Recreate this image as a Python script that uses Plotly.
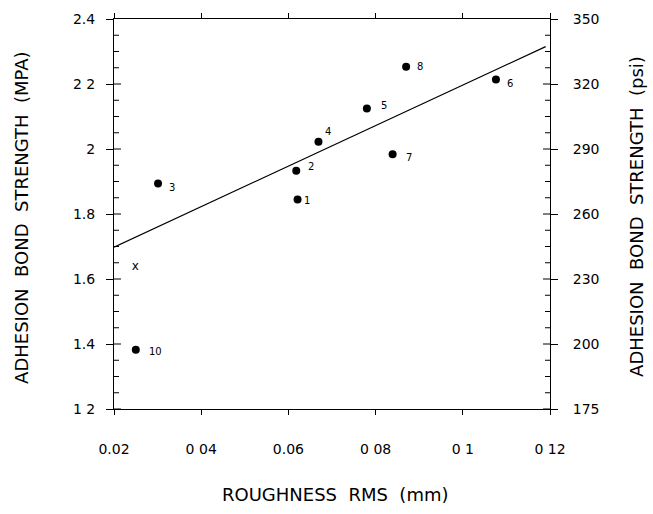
import plotly.graph_objects as go

# ---- data ----
roughness = [0.0621, 0.0618, 0.0301, 0.0669, 0.0780, 0.1076, 0.0839, 0.0870, 0.0250]
strength = [1.845, 1.933, 1.894, 2.022, 2.125, 2.214, 1.984, 2.253, 1.382]
point_labels = ["1", "2", "3", "4", "5", "6", "7", "8", "10"]

x_point = [0.0249]
x_point_strength = [1.638]

fit_x = [0.02, 0.119]
fit_y = [1.698, 2.315]

x_tickvals = [0.02, 0.04, 0.06, 0.08, 0.10, 0.12]
x_ticktext = ["0.02", "0 04", "0.06", "0 08", "0 1", "0 12"]
y_tickvals = [1.2, 1.4, 1.6, 1.8, 2.0, 2.2, 2.4]
y_ticktext = ["1 2", "1.4", "1.6", "1.8", "2", "2 2", "2.4"]
psi_ticktext = ["175", "200", "230", "260", "290", "320", "350"]

# label pixel offsets (style only): (dx, dy up)
label_offsets = {"1": (9, -1), "2": (15, 4), "3": (14, -4), "4": (10, 10),
                 "5": (17, 3), "6": (14, -4), "7": (16, -3), "8": (14, 0),
                 "10": (20, -2)}

FONT = "DejaVu Sans"
fig = go.Figure()

fig.add_trace(go.Scatter(x=fit_x, y=fit_y, mode="lines",
                         line=dict(color="black", width=1.2), showlegend=False))
fig.add_trace(go.Scatter(x=roughness, y=strength, mode="markers",
                         marker=dict(color="black", size=8), cliponaxis=False,
                         showlegend=False))
fig.add_trace(go.Scatter(x=x_point, y=x_point_strength, mode="text", text=["x"],
                         textfont=dict(family=FONT, size=12, color="black"),
                         showlegend=False))
# invisible helper trace so the right axis gets drawn
fig.add_trace(go.Scatter(x=x_point, y=x_point_strength, yaxis="y2",
                         mode="markers", marker=dict(opacity=0),
                         hoverinfo="skip", showlegend=False))

annotations = []
for xv, yv, lab in zip(roughness, strength, point_labels):
    dx, dy = label_offsets[lab]
    annotations.append(dict(x=xv, y=yv, text=lab, showarrow=False,
                            xshift=dx, yshift=dy,
                            font=dict(family=FONT, size=10, color="black")))

title_font = dict(family=FONT, size=18, color="black")
sp = "\u00a0\u00a0"
annotations += [
    dict(xref="paper", yref="paper", x=0.507, y=-0.218,
         text=f"ROUGHNESS{sp}RMS{sp}(mm)", showarrow=False, font=title_font,
         xanchor="center", yanchor="middle"),
    dict(xref="paper", yref="paper", x=-0.211, y=0.49, textangle=-90,
         text=f"ADHESION{sp}BOND{sp}STRENGTH{sp}(MPA)", showarrow=False,
         font=title_font, xanchor="center", yanchor="middle"),
    dict(xref="paper", yref="paper", x=1.1995, y=0.495, textangle=-90,
         text=f"ADHESION{sp}BOND{sp}STRENGTH{sp}(psi)", showarrow=False,
         font=title_font, xanchor="center", yanchor="middle"),
]

# default tick strings -> displayed text
left_alias = {f"{v:g}": t for v, t in zip(y_tickvals, y_ticktext)}
right_alias = {f"{v:g}": t for v, t in zip(y_tickvals, psi_ticktext)}

# inside tick marks on both vertical axes (major 7px, minor 5px every quarter step)
x_lo, x_hi = x_tickvals[0], x_tickvals[-1]
shapes = []
for i in range(len(y_tickvals) - 1):
    step = (y_tickvals[i + 1] - y_tickvals[i]) / 4
    for k in range(4):
        yv = y_tickvals[i] + k * step
        ln = 7 if k == 0 else 5
        for anchor, sign in ((x_lo, 1), (x_hi, -1)):
            shapes.append(dict(type="line", xref="x", yref="y",
                               xsizemode="pixel", xanchor=anchor,
                               x0=0, x1=sign * ln, y0=yv, y1=yv,
                               line=dict(color="black", width=1)))

tick_font = dict(family=FONT, size=14, color="black")
yrange = [1.2, 2.4]
common_y = dict(range=yrange, tickmode="linear", tick0=1.2, dtick=0.2,
                showgrid=False, zeroline=False, showline=True, linecolor="black",
                linewidth=1, ticks="outside", ticklen=7, tickcolor="black",
                tickfont=tick_font)
fig.update_layout(
    width=653, height=514,
    margin=dict(l=114, r=103, t=19, b=105),
    paper_bgcolor="white", plot_bgcolor="white",
    showlegend=False,
    annotations=annotations,
    shapes=shapes,
    xaxis=dict(range=[x_lo, x_hi], tickvals=x_tickvals, ticktext=x_ticktext,
               showgrid=False, zeroline=False, showline=True, linecolor="black",
               linewidth=1, mirror="ticks", ticks="outside", ticklen=5,
               tickcolor="black", tickfont=tick_font, ticklabelstandoff=22),
    yaxis=dict(common_y, labelalias=left_alias, ticklabelstandoff=8),
    yaxis2=dict(common_y, labelalias=right_alias, overlaying="y", side="right",
                anchor="x", ticklabelstandoff=12),
)

fig.write_html("out.html")
